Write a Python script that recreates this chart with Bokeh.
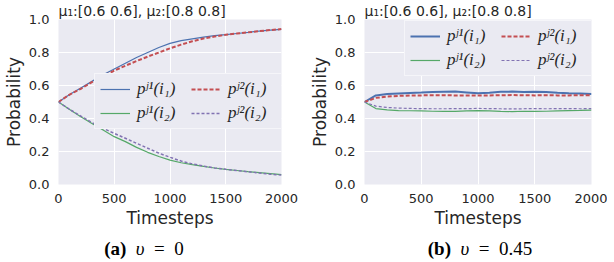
from bokeh.plotting import figure
from bokeh.layouts import column, row
from bokeh.models import Div, Legend, LegendItem, FixedTicker, Range1d, NumeralTickFormatter
from bokeh.embed import file_html
from bokeh.resources import INLINE

# ---- data ----
timesteps = [0, 100, 200, 300, 400, 500, 600, 700, 800, 900, 1000,
             1100, 1200, 1300, 1400, 1500, 1600, 1700, 1800, 1900, 2000]

# panel (a) v = 0
a_pj1_i1 = [0.50, 0.545, 0.585, 0.625, 0.665, 0.70, 0.735, 0.77, 0.80, 0.83, 0.855,
            0.872, 0.883, 0.893, 0.902, 0.908, 0.915, 0.922, 0.93, 0.936, 0.94]
a_pj2_i1 = [0.50, 0.545, 0.58, 0.62, 0.655, 0.69, 0.72, 0.748, 0.775, 0.80, 0.825,
            0.848, 0.868, 0.885, 0.897, 0.907, 0.915, 0.922, 0.93, 0.936, 0.942]
a_pj1_i2 = [0.50, 0.455, 0.41, 0.37, 0.33, 0.29, 0.26, 0.225, 0.195, 0.17, 0.148,
            0.132, 0.12, 0.11, 0.10, 0.092, 0.085, 0.078, 0.072, 0.066, 0.06]
a_pj2_i2 = [0.50, 0.455, 0.415, 0.375, 0.34, 0.31, 0.28, 0.25, 0.22, 0.19, 0.165,
            0.142, 0.125, 0.112, 0.10, 0.092, 0.085, 0.077, 0.07, 0.062, 0.057]

# panel (b) v = 0.45
b_pj1_i1 = [0.50, 0.54, 0.548, 0.552, 0.555, 0.557, 0.56, 0.562, 0.563, 0.558, 0.553,
            0.556, 0.562, 0.563, 0.56, 0.562, 0.56, 0.556, 0.553, 0.552, 0.548]
b_pj2_i1 = [0.50, 0.525, 0.533, 0.537, 0.539, 0.54, 0.541, 0.541, 0.54, 0.54, 0.539,
            0.54, 0.541, 0.542, 0.541, 0.54, 0.541, 0.54, 0.54, 0.541, 0.54]
b_pj1_i2 = [0.50, 0.46, 0.452, 0.448, 0.447, 0.446, 0.444, 0.443, 0.443, 0.446, 0.448,
            0.446, 0.443, 0.442, 0.444, 0.443, 0.444, 0.446, 0.448, 0.449, 0.451]
b_pj2_i2 = [0.50, 0.475, 0.467, 0.463, 0.461, 0.46, 0.459, 0.459, 0.46, 0.46, 0.461,
            0.46, 0.459, 0.458, 0.459, 0.46, 0.459, 0.46, 0.46, 0.459, 0.46]

x_ticks = [0, 500, 1000, 1500, 2000]
y_ticks = [0.0, 0.2, 0.4, 0.6, 0.8, 1.0]
labels = ["pʲ¹(i₁)", "pʲ²(i₁)", "pʲ¹(i₂)", "pʲ²(i₂)"]
title_text = "μ₁:[0.6 0.6], μ₂:[0.8 0.8]"

BLUE, GREEN, RED, PURPLE = "#4C72B0", "#55A868", "#C44E52", "#8172B2"
BG = "#EAEAF2"
TXT = "#262626"
FRAME_H = 165


def make_fig(series, widths, legend_loc, min_right, frame_w):
    p = figure(frame_width=frame_w, frame_height=FRAME_H, output_backend="svg",
               toolbar_location=None, x_range=Range1d(0, 2000), y_range=Range1d(0, 1.0),
               min_border_left=0, min_border_right=min_right, min_border_top=0,
               min_border_bottom=0)
    p.background_fill_color = BG
    p.border_fill_color = "white"
    p.outline_line_color = None
    p.title.text = title_text
    p.title.text_font = "DejaVu Sans"
    p.title.text_font_size = "14px"
    p.title.text_font_style = "normal"
    p.title.text_color = TXT
    p.title.standoff = 1
    p.title.offset = 0

    for ax in (p.xaxis[0], p.yaxis[0]):
        ax.axis_line_color = None
        ax.major_tick_line_color = None
        ax.minor_tick_line_color = None
        ax.major_label_text_font = "DejaVu Sans"
        ax.major_label_text_font_size = "13px"
        ax.major_label_text_color = TXT
        ax.axis_label_text_font = "DejaVu Sans"
        ax.axis_label_text_font_size = "17px"
        ax.axis_label_text_font_style = "normal"
        ax.axis_label_text_color = TXT
        ax.major_label_standoff = 3
        ax.axis_label_standoff = 2
    p.xaxis.axis_label = "Timesteps"
    p.yaxis.axis_label = "Probability"
    p.xaxis.ticker = FixedTicker(ticks=x_ticks)
    p.yaxis.ticker = FixedTicker(ticks=y_ticks)
    p.yaxis.formatter = NumeralTickFormatter(format="0.0")
    p.grid.grid_line_color = "white"
    p.grid.grid_line_width = 1

    colors = [BLUE, RED, GREEN, PURPLE]
    dashes = ["solid", "4 2", "solid", "3 2"]
    items = []
    for ys, c, d, w, lab in zip(series, colors, dashes, widths, labels):
        r = p.line(timesteps, ys, line_color=c, line_width=w, line_dash=d)
        items.append(LegendItem(label=lab, renderers=[r]))

    leg = Legend(items=items, location=legend_loc, orientation="horizontal", ncols=2)
    leg.background_fill_color = BG
    leg.background_fill_alpha = 1.0
    leg.border_line_color = "white"
    leg.border_line_width = 1
    leg.label_text_font = "Liberation Serif"
    leg.label_text_font_style = "italic"
    leg.label_text_font_size = "17px"
    leg.label_text_color = TXT
    leg.glyph_width = 30
    leg.label_standoff = 7
    leg.label_width = 50
    leg.spacing = 4
    leg.padding = 5
    leg.margin = 0
    leg.label_height = 16
    leg.glyph_height = 16
    p.add_layout(leg, "center")
    return p


pa = make_fig([a_pj1_i1, a_pj2_i1, a_pj1_i2, a_pj2_i2], [1.2, 2, 1.2, 1.5],
              (36, 55), 25, 223)
pb = make_fig([b_pj1_i1, b_pj2_i1, b_pj1_i2, b_pj2_i2], [2, 2, 1.2, 1.2],
              (40, 108), 16, 227)

cap_style = "font-family:'Liberation Serif';font-size:19px;color:#000;"
cap_html = (
    '<div style="white-space:nowrap;%s">'
    '<span style="display:inline-block;width:278px;text-align:center"><b>(a)</b>\u2002<i>υ</i>\u2002=\u20020</span>'
    '<span style="display:inline-block;margin-left:117px;width:160px;text-align:center"><b>(b)</b>\u2002<i>υ</i>\u2002=\u20020.45</span>'
    '</div>' % cap_style
)
cap = Div(text=cap_html, width=598, height=22)

layout = column(row(pa, pb), cap)

with open("out.html", "w") as f:
    f.write(file_html(layout, INLINE))
